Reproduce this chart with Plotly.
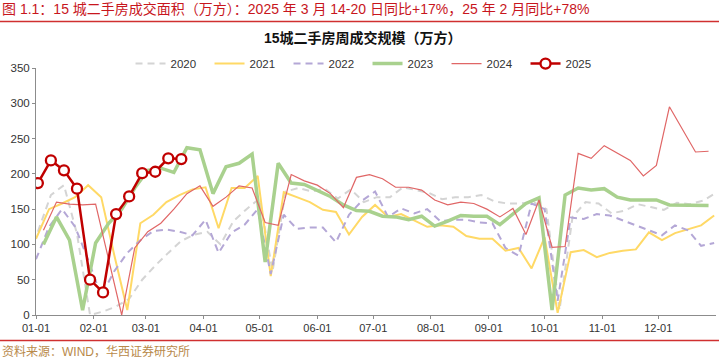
import pandas as pd
import plotly.graph_objects as go

# ---------------- data (weekly values, 万方) ----------------
years = ["2020", "2021", "2022", "2023", "2024", "2025"]
start_dates = ["2025-01-02", "2025-01-01", "2025-01-01", "2025-01-05", "2025-01-05", "2025-01-02"]

v2020 = [118, 170, 184, 115, 0, 5, 12, 23, 50, 70, 88, 105, 114, 118, 100, 133, 150, 165, 62,
         175, 180, 175, 179, 165, 178, 160, 167, 167, 181, 177, 173, 164, 167, 167, 170, 161,
         158, 158, 160, 150, 7, 139, 160, 158, 144, 148, 157, 153, 149, 159, 157, 162, 173]
v2021 = [108, 150, 158, 167, 184, 167, 85, 7, 130, 142, 160, 170, 178, 181, 123, 180, 180, 197,
         55, 174, 167, 160, 149, 146, 114, 139, 156, 139, 143, 134, 125, 127, 125, 112, 108, 108,
         91, 95, 66, 110, 3, 89, 92, 82, 88, 91, 93, 117, 106, 116, 122, 127, 141]
v2022 = [79, 125, 150, 125, 78, 27, 62, 88, 106, 119, 121, 118, 113, 135, 88, 117, 128, 150, 58,
         142, 122, 124, 124, 103, 142, 162, 175, 139, 151, 144, 150, 133, 135, 135, 131, 130, 95,
         84, 158, 150, 20, 138, 136, 143, 141, 134, 128, 121, 113, 127, 120, 98, 102]
v2023 = [100, 139, 106, 7, 102, 130, 150, 180, 205, 208, 202, 237, 234, 172, 210, 215, 228, 75,
         215, 187, 185, 176, 168, 156, 148, 147, 140, 139, 135, 140, 126, 133, 141, 140, 140, 128,
         143, 158, 166, 7, 170, 180, 177, 179, 167, 163, 163, 163, 156, 156, 156, 155]
v2024 = [120, 160, 157, 156, 157, 78, 0, 95, 118, 130, 150, 172, 183, 154, 167, 183, 180, 131,
         127, 199, 190, 184, 172, 152, 195, 199, 193, 181, 181, 177, 163, 156, 160, 158, 150, 139,
         151, 114, 163, 96, 97, 229, 222, 240, 230, 219, 197, 212, 295, 262, 231, 232]
v2025 = [187, 219, 205, 179, 50, 32, 143, 168, 201, 203, 222, 221]

series_values = [v2020, v2021, v2022, v2023, v2024, v2025]

month_ticks = ["2025-%02d-01" % m for m in range(1, 13)]
month_labels = ["01-01", "02-01", "03-01", "04-01", "05-01", "06-01",
                "07-01", "08-01", "09-01", "10-01", "11-01", "12-01"]

# ---------------- styles ----------------
styles = {
    "2020": dict(color="#d4d4d4", width=2, dash="7px,5px"),
    "2021": dict(color="#ffd966", width=2, dash="solid"),
    "2022": dict(color="#b4a7d6", width=2, dash="7px,5px"),
    "2023": dict(color="#a9d18e", width=3.5, dash="solid"),
    "2024": dict(color="#e06666", width=1.2, dash="solid"),
    "2025": dict(color="#c00000", width=2.5, dash="solid"),
}

FONT = "Liberation Sans, Arial, Noto Sans CJK SC, sans-serif"

fig = go.Figure()
for yr, sd, vals in zip(years, start_dates, series_values):
    dates = pd.date_range(sd, periods=len(vals), freq="7D")
    st = styles[yr]
    kw = dict(mode="lines")
    if yr == "2025":
        kw = dict(mode="lines+markers",
                  marker=dict(symbol="circle", size=10, color="white",
                              line=dict(color=st["color"], width=2.3)))
    fig.add_trace(go.Scatter(x=dates, y=vals, name=yr,
                             line=dict(color=st["color"], width=st["width"], dash=st["dash"]),
                             **kw))

L, R, T, B = 36, 3, 68, 44
fig.update_layout(
    width=719, height=359,
    margin=dict(l=L, r=R, t=T, b=B, pad=0, autoexpand=False),
    paper_bgcolor="white", plot_bgcolor="white",
    font=dict(family=FONT, size=11, color="#333333"),
    showlegend=True,
    legend=dict(orientation="h", x=0.139, xanchor="left", y=1.018, yanchor="middle",
                bgcolor="rgba(0,0,0,0)", font=dict(size=11.5, color="#333333"),
                entrywidth=34, entrywidthmode="pixels", itemwidth=30,
                tracegroupgap=0),
    xaxis=dict(type="date", range=["2025-01-01", "2026-01-01"],
               tickvals=month_ticks, ticktext=month_labels,
               showgrid=False, zeroline=False, showline=True,
               linecolor="#8c8c8c", linewidth=1, automargin=False,
               ticks="outside", ticklen=3, tickcolor="#8c8c8c",
               tickfont=dict(size=11, color="#333333")),
    yaxis=dict(range=[0, 350], dtick=50, tick0=0,
               showgrid=False, zeroline=False, showline=True,
               linecolor="#8c8c8c", linewidth=1, automargin=False,
               ticks="outside", ticklen=3, tickcolor="#8c8c8c",
               tickfont=dict(size=11.5, color="#333333")),
)

ph = 359 - T - B
def py(px):
    return (359 - B - px) / ph

fig.add_annotation(text="图 1.1：15 城二手房成交面积（万方）：2025 年 3 月 14-20 日同比+17%，25 年 2 月同比+78%",
                   xref="paper", yref="paper", x=-L / 680, y=py(9), xanchor="left", yanchor="middle",
                   showarrow=False, font=dict(size=14, color="#c8161d", family=FONT))
fig.add_annotation(text="<b>15城二手房周成交规模（万方）</b>",
                   xref="paper", yref="paper", x=(363 - L) / 680, y=py(38), xanchor="center",
                   yanchor="middle", showarrow=False,
                   font=dict(size=14, color="#111111", family=FONT))
fig.add_annotation(text="资料来源：WIND，华西证券研究所",
                   xref="paper", yref="paper", x=-L / 680, y=py(351), xanchor="left",
                   yanchor="middle", showarrow=False,
                   font=dict(size=12, color="#b8894a", family=FONT))

for yline in (21.5, 340.5):
    fig.add_shape(type="line", xref="paper", yref="paper",
                  x0=-L / 680, x1=1 + R / 680, y0=py(yline), y1=py(yline),
                  line=dict(color="#d03030", width=1.5))

fig.write_html("out.html", config={"displayModeBar": False},
               post_script="document.body.style.margin='0px';document.body.style.overflow='hidden';")
